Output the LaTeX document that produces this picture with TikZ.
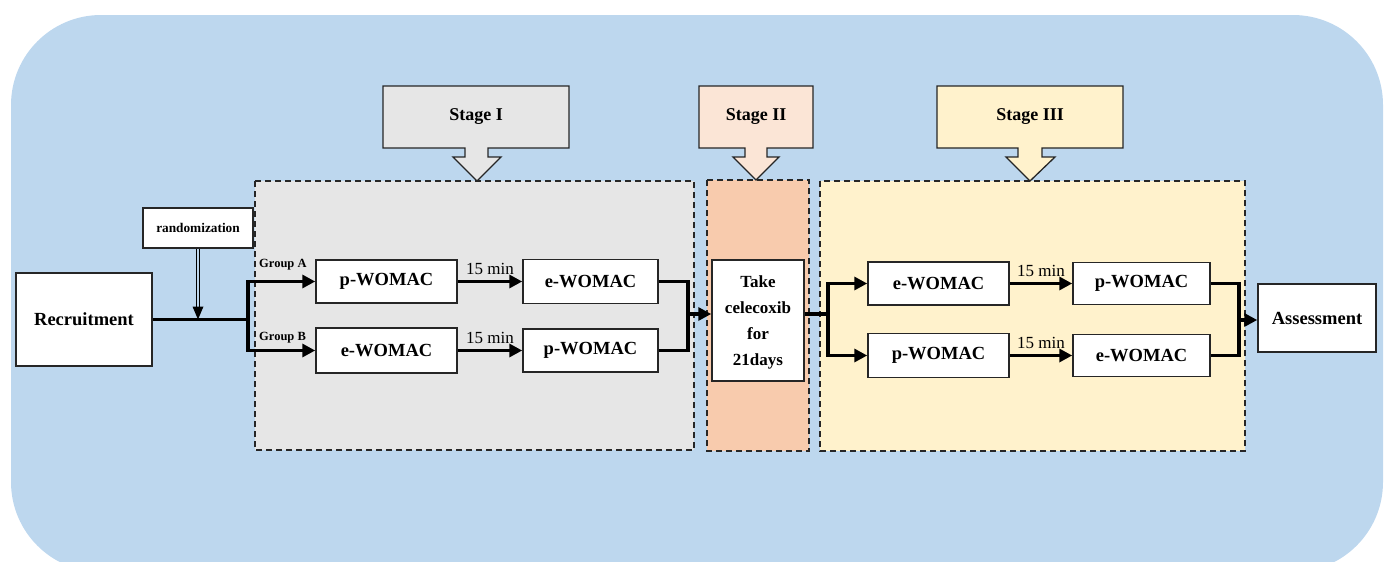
\documentclass[tikz,border=0pt]{standalone}
\usepackage{fontspec}
\setmainfont{Liberation Serif}
\usetikzlibrary{arrows.meta}
\definecolor{bgblue}{HTML}{BDD7EE}
\definecolor{graybox}{HTML}{E6E6E6}
\definecolor{orangebox}{HTML}{F8CBAD}
\definecolor{orangecall}{HTML}{FBE5D6}
\definecolor{yellowbox}{HTML}{FFF2CC}
\tikzset{
  wbox/.style={draw=black!85, fill=white, line width=1.5pt, inner sep=0pt, align=center,
    font=\fontsize{18.5}{22}\selectfont\bfseries},
  stagebox/.style={draw=black!85, line width=1.5pt, dash pattern=on 6pt off 4pt},
  callout/.style={draw=black!85, line width=1.3pt},
  conn/.style={line width=3.6pt, line join=miter},
  arr/.style={conn, -{Triangle[length=13pt,width=13pt]}},
  lbl/.style={font=\fontsize{17}{20}\selectfont, inner sep=0pt},
  grp/.style={font=\fontsize{12.5}{15}\selectfont\bfseries, inner sep=0pt, anchor=west},
  stg/.style={font=\fontsize{18}{22}\selectfont\bfseries, inner sep=0pt}
}
\begin{document}
\begin{tikzpicture}[x=1pt,y=-1pt]
\useasboundingbox (0,0) rectangle (1389,562);
\begin{scope}
\clip (0,0) rectangle (1389,562);
\fill[bgblue, rounded corners=90pt] (11,15) rectangle (1383,572);
\end{scope}

% stage areas
\draw[stagebox, fill=graybox] (255,181) rectangle (694,450);
\draw[stagebox, fill=orangebox] (707,180) rectangle (809,451);
\draw[stagebox, fill=yellowbox] (820,181) rectangle (1245,451);

% callouts
\draw[callout, fill=graybox] (383,86) -- (569,86) -- (569,148) -- (488,148) -- (488,157) -- (501,157)
  -- (477,181) -- (453,157) -- (465,157) -- (465,148) -- (383,148) -- cycle;
\node[stg] (s1) at (476,117) {Stage I};
\draw[callout, fill=orangecall] (699,86) -- (813,86) -- (813,148) -- (767,148) -- (767,157) -- (779,157)
  -- (756,180) -- (733,157) -- (745,157) -- (745,148) -- (699,148) -- cycle;
\node[stg] (s2) at (756,117) {Stage II};
\draw[callout, fill=yellowbox] (937,86) -- (1123,86) -- (1123,148) -- (1042,148) -- (1042,157) -- (1055,157)
  -- (1030,181) -- (1006,157) -- (1018,157) -- (1018,148) -- (937,148) -- cycle;
\node[stg] (s3) at (1030,117) {Stage III};

% boxes
\node[wbox, minimum width=136pt, minimum height=93pt] (rec) at (84,319.5) {Recruitment};
\node[wbox, minimum width=110pt, minimum height=40pt, font=\fontsize{13.3}{16}\selectfont\bfseries] (rand) at (198,228) {randomization};
\node[wbox, minimum width=141pt, minimum height=43pt] (pA) at (386.5,281.5) {p-WOMAC};
\node[wbox, minimum width=135pt, minimum height=44pt] (eA) at (590.5,281.5) {e-WOMAC};
\node[wbox, minimum width=141pt, minimum height=45pt] (eB) at (386.5,350.5) {e-WOMAC};
\node[wbox, minimum width=135pt, minimum height=43pt] (pB) at (590.5,350.5) {p-WOMAC};
\node[wbox, minimum width=92pt, minimum height=121pt, text depth=-8pt, font=\fontsize{17}{26}\selectfont\bfseries] (take) at (758,320.5) {Take\\celecoxib\\for\\21days};
\node[wbox, minimum width=141pt, minimum height=43pt] (e3) at (938.5,283.5) {e-WOMAC};
\node[wbox, minimum width=141pt, minimum height=44pt] (p3) at (938.5,355.5) {p-WOMAC};
\node[wbox, minimum width=137pt, minimum height=42pt] (p4) at (1141.5,283.5) {p-WOMAC};
\node[wbox, minimum width=137pt, minimum height=42pt] (e4) at (1141.5,355.5) {e-WOMAC};
\node[wbox, minimum width=118pt, minimum height=68pt] (as) at (1317,318) {Assessment};

% junctions
\coordinate (rj) at (198,319.5);
\coordinate (sp1) at (248,319.5);
\coordinate (mj1) at (688,314);
\coordinate (sp2) at (828,314);
\coordinate (mj2) at (1239,320);

% connectors
\draw[conn] (rec.east) -- (sp1);
\draw[double=bgblue, double distance=2.6pt, line width=1pt, shorten >=11pt] (rand.south) -- (rj);
\fill[black] (rj) -- ++(-5.5,-13) -- ++(11,0) -- cycle;
\draw[arr] (sp1) |- (pA.west);
\draw[arr] (sp1) |- (eB.west);
\node[grp] (gA) at (259,265) {Group A};
\node[grp] (gB) at (259,338) {Group B};

\draw[arr] (pA.east) -- (eA.west) node[lbl, midway, above=5pt] {15 min};
\draw[arr] (eB.east) -- (pB.west) node[lbl, midway, above=5pt] {15 min};
\draw[conn] (eA.east) -| (mj1);
\draw[conn] (pB.east) -| (mj1);
\draw[arr] (mj1) -- (mj1 -| take.west);

\draw[conn] (take.east |- sp2) -- (sp2);
\draw[arr] (sp2) |- (e3.west);
\draw[arr] (sp2) |- (p3.west);
\draw[arr] (e3.east) -- (p4.west) node[lbl, midway, above=5pt] {15 min};
\draw[arr] (p3.east) -- (e4.west) node[lbl, midway, above=5pt] {15 min};
\draw[conn] (p4.east) -| (mj2);
\draw[conn] (e4.east) -| (mj2);
\draw[arr] (mj2) -- (mj2 -| as.west);
\end{tikzpicture}
\end{document}
